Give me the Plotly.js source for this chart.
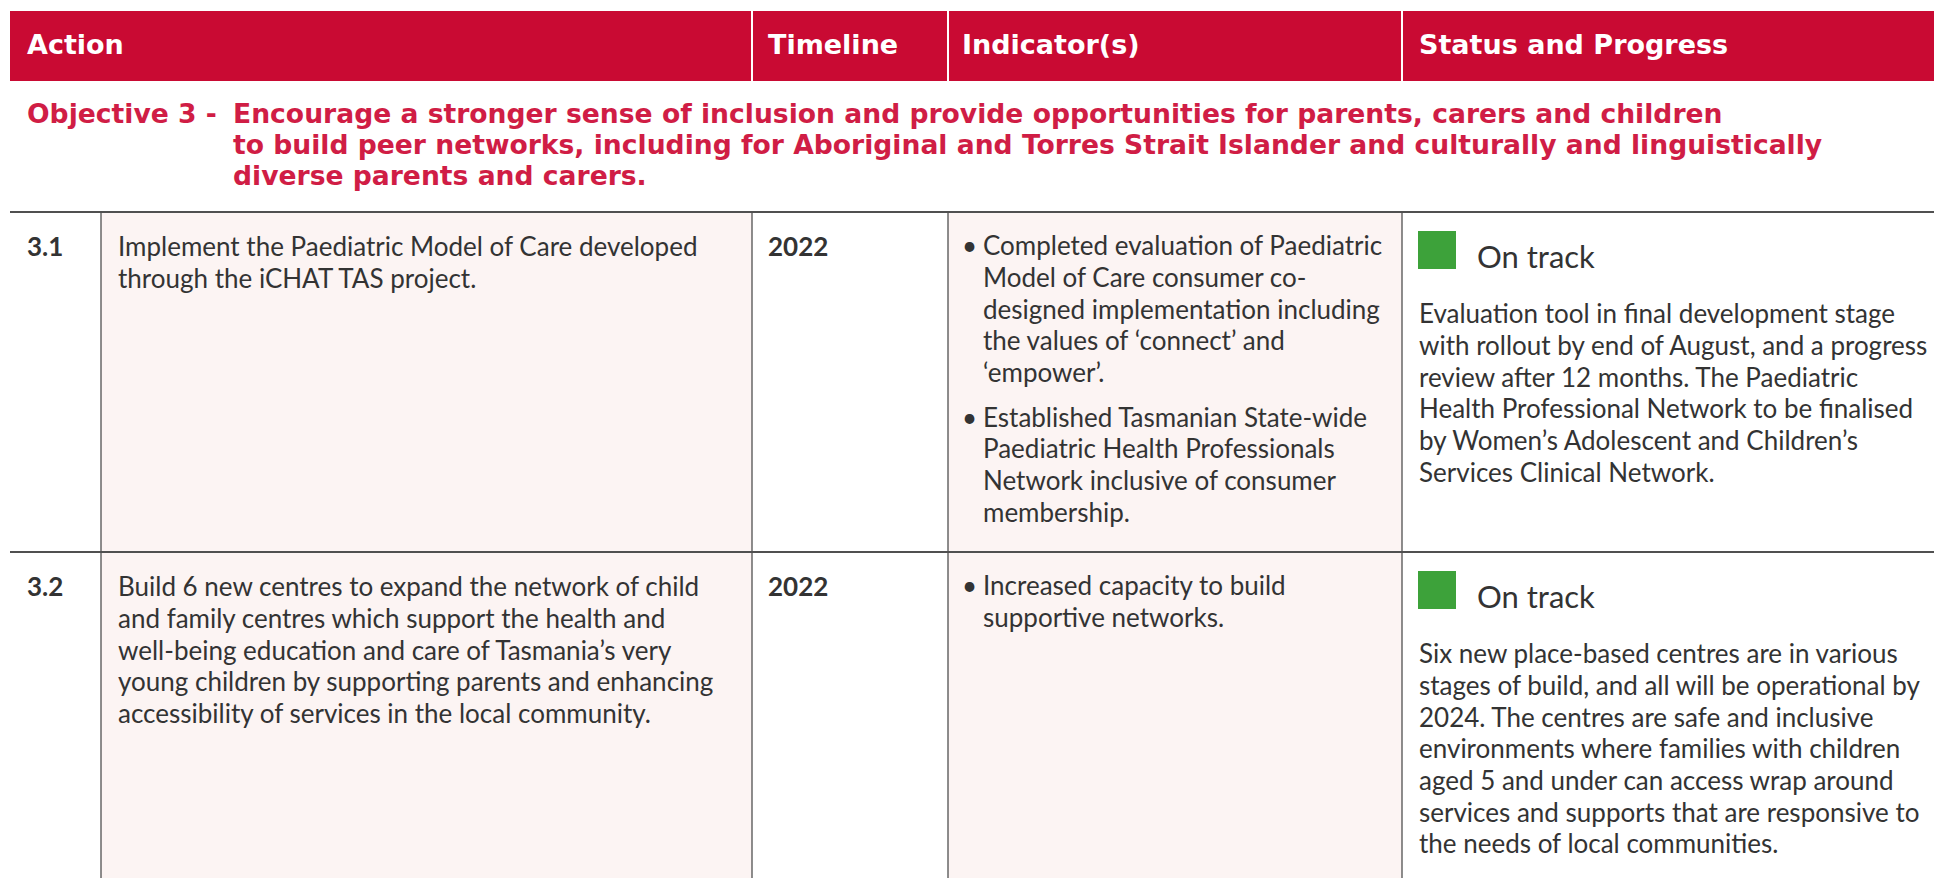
<!DOCTYPE html>
<html>
<head>
<meta charset="utf-8">
<script src="https://cdn.plot.ly/plotly-3.0.1.min.js"></script>
<style>
html,body{margin:0;padding:0;background:#fff;overflow:hidden;}
#chart{width:1934px;height:878px;}
</style>
</head>
<body>
<div id="chart"></div>
<script>
// ---------- DATA ----------
const headers = ["Action", "Timeline", "Indicator(s)", "Status and Progress"];
const objectiveLabel = "Objective 3 -";
const objectiveLines = [
  "Encourage a stronger sense of inclusion and provide opportunities for parents, carers and children",
  "to build peer networks, including for Aboriginal and Torres Strait Islander and culturally and linguistically",
  "diverse parents and carers."
];
const actionIds = ["3.1", "3.2"];
const actionLines = [
  ["Implement the Paediatric Model of Care developed",
   "through the iCHAT TAS project."],
  ["Build 6 new centres to expand the network of child",
   "and family centres which support the health and",
   "well-being education and care of Tasmania\u2019s very",
   "young children by supporting parents and enhancing",
   "accessibility of services in the local community."]
];
const timelines = ["2022", "2022"];
const indicatorBullets = [
  [
    ["Completed evaluation of Paediatric",
     "Model of Care consumer co-",
     "designed implementation including",
     "the values of \u2018connect\u2019 and",
     "\u2018empower\u2019."],
    ["Established Tasmanian State-wide",
     "Paediatric Health Professionals",
     "Network inclusive of consumer",
     "membership."]
  ],
  [
    ["Increased capacity to build",
     "supportive networks."]
  ]
];
const statusLabels = ["On track", "On track"];
const statusLines = [
  ["Evaluation tool in final development stage",
   "with rollout by end of August, and a progress",
   "review after 12 months. The Paediatric",
   "Health Professional Network to be finalised",
   "by Women\u2019s Adolescent and Children\u2019s",
   "Services Clinical Network."],
  ["Six new place-based centres are in various",
   "stages of build, and all will be operational by",
   "2024. The centres are safe and inclusive",
   "environments where families with children",
   "aged 5 and under can access wrap around",
   "services and supports that are responsive to",
   "the needs of local communities."]
];

// ---------- LAYOUT CONSTANTS ----------
const W = 1934, H = 878;
const colX = [10, 101, 752, 948, 1402, W];
const headerTop = 11, headerBottom = 81;
const rowTops = [212, 552];
const red = "#c90a33", objRed = "#d01d45", pink = "#fcf4f3", green = "#3da23a";
const ink = "#333333", gridCol = "#505050";
const bodyFont = "Lato, 'Noto Sans', sans-serif";
const headFont = "'DejaVu Sans', Inter, sans-serif";
const bodySize = 26, lineH = 31.7, pad = 16;

const shapes = [];
const annotations = [];

function txt(x, baseline, text, size, color, family, weight) {
  annotations.push({
    x: x, y: baseline - 0.38 * size, xref: "x", yref: "y",
    text: text, showarrow: false, xanchor: "left", yanchor: "middle",
    align: "left", borderpad: 0,
    font: {family: family, size: size, color: color, weight: weight || 400}
  });
}

// header band
shapes.push({type: "rect", xref: "x", yref: "y", x0: colX[0], x1: W, y0: headerTop, y1: headerBottom,
  fillcolor: red, line: {width: 0}, layer: "below"});
[colX[2], colX[3], colX[4]].forEach(function (cx) {
  shapes.push({type: "line", xref: "x", yref: "y", x0: cx, x1: cx, y0: headerTop, y1: headerBottom,
    line: {color: "#ffffff", width: 2}});
});
const headerX = [colX[0] + 16, colX[2] + 15, colX[3] + 13, colX[4] + 16];
headers.forEach(function (h, i) {
  txt(headerX[i], 55, h, 27, "#ffffff", headFont, 700);
});

// objective
txt(colX[0] + 16, 124, objectiveLabel, 26.6, objRed, headFont, 700);
objectiveLines.forEach(function (l, i) {
  txt(232, 124 + i * 31, l, 26.6, objRed, headFont, 700);
});

// pink fills
[[colX[1], colX[2]], [colX[3], colX[4]]].forEach(function (c) {
  shapes.push({type: "rect", xref: "x", yref: "y", x0: c[0], x1: c[1], y0: rowTops[0], y1: H,
    fillcolor: pink, line: {width: 0}, layer: "below"});
});
// horizontal rules
rowTops.forEach(function (y) {
  shapes.push({type: "line", xref: "x", yref: "y", x0: colX[0], x1: W, y0: y, y1: y,
    line: {color: gridCol, width: 2}});
});
// vertical rules
[colX[1], colX[2], colX[3], colX[4]].forEach(function (cx) {
  shapes.push({type: "line", xref: "x", yref: "y", x0: cx, x1: cx, y0: rowTops[0], y1: H,
    line: {color: gridCol, width: 1.3}});
});

// rows
const sqX = [], sqY = [];
actionIds.forEach(function (id, r) {
  const top = rowTops[r];
  const b0 = top + 44;
  txt(colX[0] + 16, b0, id, bodySize, ink, bodyFont, 700);
  actionLines[r].forEach(function (l, i) { txt(colX[1] + pad, b0 + i * lineH, l, bodySize, ink, bodyFont, 400); });
  txt(colX[2] + 15, b0, timelines[r], bodySize, ink, bodyFont, 700);
  let b = b0 - 1;
  indicatorBullets[r].forEach(function (bul) {
    txt(colX[3] + 13, b, "\u2022", bodySize, ink, bodyFont, 400);
    bul.forEach(function (l, i) { txt(colX[3] + 34, b + i * lineH, l, bodySize, ink, bodyFont, 400); });
    b += bul.length * lineH + 13;
  });
  sqX.push(colX[4] + 16 + 19);
  sqY.push(top + 19 + 19);
  txt(colX[4] + 74, top + 56, statusLabels[r], 31, ink, bodyFont, 400);
  statusLines[r].forEach(function (l, i) { txt(colX[4] + 16, top + 111 + i * lineH, l, bodySize, ink, bodyFont, 400); });
});

const traces = [{
  type: "scatter", mode: "markers", x: sqX, y: sqY,
  marker: {symbol: "square", size: 38, color: green, line: {width: 0}},
  hoverinfo: "skip", showlegend: false
}];

const layout = {
  width: W, height: H, margin: {l: 0, r: 0, t: 0, b: 0, pad: 0},
  paper_bgcolor: "#ffffff", plot_bgcolor: "rgba(0,0,0,0)",
  xaxis: {range: [0, W], visible: false, fixedrange: true},
  yaxis: {range: [H, 0], visible: false, fixedrange: true},
  shapes: shapes, annotations: annotations, showlegend: false
};
Plotly.newPlot("chart", traces, layout, {displayModeBar: false, staticPlot: true});
</script>
</body>
</html>
